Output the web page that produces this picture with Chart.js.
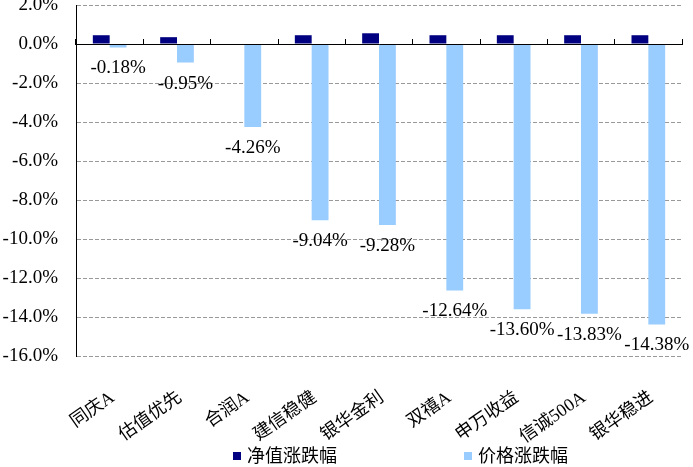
<!DOCTYPE html>
<html>
<head>
<meta charset="utf-8">
<script src="https://cdn.jsdelivr.net/npm/chart.js@4/dist/chart.umd.min.js"></script>
<style>
  body { margin: 0; background: #fff; }
  canvas { display: block; }
</style>
</head>
<body>
<canvas id="chart" width="693" height="467"></canvas>
<script>
const categories = ["同庆A", "估值优先", "合润A", "建信稳健", "银华金利", "双禧A", "申万收益", "信诚500A", "银华稳进"];
const seriesNames = ["净值涨跌幅", "价格涨跌幅"];
const navChange = [0.45, 0.35, 0, 0.45, 0.55, 0.45, 0.45, 0.45, 0.45];
const priceChange = [-0.18, -0.95, -4.26, -9.04, -9.28, -12.64, -13.60, -13.83, -14.38];
const yTicks = { min: -16, max: 2, step: 2 };

const FONT = "'Liberation Serif', 'Noto Sans CJK SC', serif";
Chart.defaults.font.family = FONT;
Chart.defaults.font.size = 18;
Chart.defaults.color = "#000";

// value labels under the price bars
const valueLabels = {
  id: "valueLabels",
  afterDatasetsDraw(chart) {
    const ctx = chart.ctx;
    const meta = chart.getDatasetMeta(1);
    ctx.save();
    ctx.font = "19px " + FONT;
    ctx.fillStyle = "#000";
    ctx.textAlign = "center";
    ctx.textBaseline = "middle";
    meta.data.forEach((bar, i) => {
      ctx.fillText(priceChange[i].toFixed(2) + "%", bar.x, bar.y + 21);
    });
    ctx.restore();
  },
};

// legend at the bottom, drawn by hand so the spacing matches
const bottomLegend = {
  id: "bottomLegend",
  afterDraw(chart) {
    const ctx = chart.ctx;
    ctx.save();
    ctx.font = "18px " + FONT;
    ctx.textBaseline = "middle";
    let x = 233;
    const y = 456;
    chart.data.datasets.forEach((ds) => {
      ctx.fillStyle = ds.backgroundColor;
      ctx.fillRect(x, y - 4, 8, 8);
      ctx.fillStyle = "#000";
      ctx.fillText(ds.label, x + 14, y + 1);
      x += 14 + ctx.measureText(ds.label).width + 127;
    });
    ctx.restore();
  },
};

new Chart(document.getElementById("chart"), {
  type: "bar",
  data: {
    labels: categories,
    datasets: [
      {
        label: seriesNames[0],
        data: navChange,
        backgroundColor: "#000080",
      },
      {
        label: seriesNames[1],
        data: priceChange,
        backgroundColor: "#99CCFF",
      },
    ],
  },
  options: {
    responsive: false,
    animation: false,
    devicePixelRatio: 1,
    layout: { padding: { top: 5, right: 11, bottom: 11, left: 0 } },
    datasets: {
      bar: { barPercentage: 1, categoryPercentage: 0.5 },
    },
    plugins: {
      legend: { display: false },
      tooltip: { enabled: false },
    },
    scales: {
      x: {
        position: "bottom",
        grid: { display: false },
        border: { display: false },
        ticks: {
          autoSkip: false,
          minRotation: 35,
          maxRotation: 35,
          padding: 23,
          labelOffset: 3,
          font: { size: 18 },
        },
        afterFit: (s) => {
          s.height = 100;
          s.paddingLeft = 0;
          s.paddingRight = 0;
        },
      },
      x2: {
        type: "category",
        position: { y: 0 },
        offset: true,
        grid: {
          offset: true,
          drawOnChartArea: false,
          drawTicks: true,
          tickLength: -6,
          tickColor: "#000",
          tickWidth: 1,
          z: 1,
        },
        border: { display: true, color: "#000", width: 1, z: 1 },
        ticks: { display: false },
      },
      y: {
        min: yTicks.min,
        max: yTicks.max,
        grid: { color: "#999", drawTicks: false },
        border: { display: true, color: "#000", width: 1, dash: [4, 2] },
        ticks: {
          stepSize: yTicks.step,
          padding: 18,
          font: { size: 19 },
          callback: (v) => v.toFixed(1) + "%",
        },
        afterFit: (s) => {
          s.width = 76;
          s.paddingTop = 0;
          s.paddingBottom = 0;
        },
      },
    },
  },
  plugins: [valueLabels, bottomLegend],
});
</script>
</body>
</html>
